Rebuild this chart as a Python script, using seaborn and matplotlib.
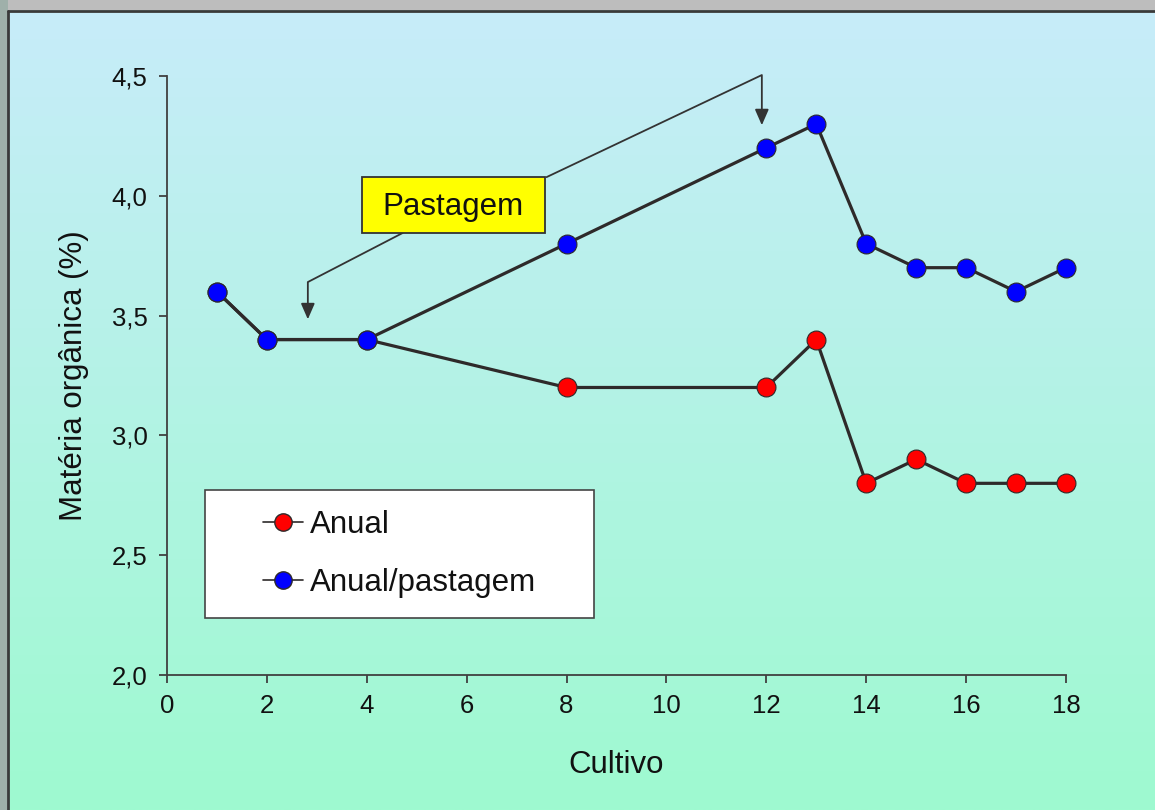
import numpy as np
import pandas as pd
import matplotlib
matplotlib.use("Agg")
import matplotlib.pyplot as plt
from matplotlib.lines import Line2D
from matplotlib.patches import Rectangle
import seaborn as sns

# Soil organic matter by crop cycle
cultivo = [1, 2, 4, 8, 12, 13, 14, 15, 16, 17, 18]
anual = [3.6, 3.4, 3.4, 3.2, 3.2, 3.4, 2.8, 2.9, 2.8, 2.8, 2.8]
anual_pastagem = [3.6, 3.4, 3.4, 3.8, 4.2, 4.3, 3.8, 3.7, 3.7, 3.6, 3.7]
series_names = ["Anual", "Anual/pastagem"]
x_ticks = [0, 2, 4, 6, 8, 10, 12, 14, 16, 18]
y_ticks = [2.0, 2.5, 3.0, 3.5, 4.0, 4.5]
y_tick_labels = ["2,0", "2,5", "3,0", "3,5", "4,0", "4,5"]

df = pd.DataFrame({
    "Cultivo": cultivo * 2,
    "MO": anual + anual_pastagem,
    "Serie": [series_names[0]] * len(cultivo) + [series_names[1]] * len(cultivo),
})

sns.set_theme(style="white")
plt.rcParams["font.family"] = ["Liberation Sans", "DejaVu Sans"]

W, H = 1155, 810
fig = plt.figure(figsize=(W / 100, H / 100), dpi=100)

# Background: vertical blue-to-green gradient with a grey frame top/left
bg = fig.add_axes([0, 0, 1, 1], zorder=-10)
bg.set_axis_off()
top = np.array([200, 236, 250]) / 255
bot = np.array([158, 250, 208]) / 255
t = np.linspace(0, 1, 400)[:, None, None]
grad = top * (1 - t) + bot * t
grad = np.repeat(grad, 2, axis=1)
bg.imshow(grad, extent=[0, W, H, 0], aspect="auto", origin="upper")
bg.set_xlim(0, W)
bg.set_ylim(H, 0)
bg.add_patch(Rectangle((0, 0), W, 10, color="#bdbdbd", lw=0))
bg.add_patch(Rectangle((0, 0), 8, H, color="#9fb0aa", lw=0))
bg.plot([8, W], [11, 11], color="#3a3a3a", lw=2)
bg.plot([8, 8], [11, H], color="#3a3a3a", lw=2)

ax = fig.add_axes([167 / W, 1 - 675 / H, (1066 - 167) / W, (675 - 76) / H])
ax.patch.set_alpha(0)

line_col = "#2e2a2a"
sns.lineplot(data=df, x="Cultivo", y="MO", hue="Serie", hue_order=series_names,
             palette=[line_col, line_col], lw=2.3, ax=ax, legend=False, zorder=2)
sns.scatterplot(data=df[df.Serie == series_names[0]], x="Cultivo", y="MO",
                color="#ff0000", edgecolor=line_col, linewidth=0.8, s=185,
                ax=ax, legend=False, zorder=3, clip_on=False)
sns.scatterplot(data=df[df.Serie == series_names[1]], x="Cultivo", y="MO",
                color="#0000ff", edgecolor=line_col, linewidth=0.8, s=185,
                ax=ax, legend=False, zorder=4, clip_on=False)

ax.set_xlim(0, 18)
ax.set_ylim(2.0, 4.5)
ax.set_xticks(x_ticks)
ax.set_xticklabels([str(v) for v in x_ticks])
ax.set_yticks(y_ticks)
ax.set_yticklabels(y_tick_labels)
for s in ["top", "right"]:
    ax.spines[s].set_visible(False)
for s in ["left", "bottom"]:
    ax.spines[s].set_color("#404040")
    ax.spines[s].set_linewidth(1.3)
ax.tick_params(axis="both", direction="out", length=6, width=1.3, color="#404040",
               labelsize=18.5, labelcolor="#111111", pad=8, bottom=True, left=True)
ax.set_xlabel("Cultivo", fontsize=22.5, color="#111111", labelpad=23)
ax.set_ylabel("Matéria orgânica (%)", fontsize=22.5, color="#111111", labelpad=16)

# Pastagem callout
ax.add_patch(Rectangle((3.9, 3.845), 3.67, 0.233, facecolor="#ffff00",
                       edgecolor="#333333", lw=1.3, zorder=5))
ax.text(5.735, 3.955, "Pastagem", fontsize=22.5, ha="center", va="center",
        color="#111111", zorder=6)
ax.plot([4.72, 2.82, 2.82], [3.845, 3.64, 3.52], color="#333333", lw=1.3, zorder=1)
ax.annotate("", xy=(2.82, 3.473), xytext=(2.82, 3.53),
            arrowprops=dict(arrowstyle="-|>,head_length=0.8,head_width=0.35",
                            color="#333333", lw=1.3))
ax.plot([7.6, 11.91, 11.91], [4.078, 4.504, 4.33], color="#333333", lw=1.3,
        zorder=1, clip_on=False)
ax.annotate("", xy=(11.91, 4.283), xytext=(11.91, 4.34),
            arrowprops=dict(arrowstyle="-|>,head_length=0.8,head_width=0.35",
                            color="#333333", lw=1.3))

# Legend in a white box
ax.add_patch(Rectangle((0.0423, 0.0952), 0.4327, 0.2136, transform=ax.transAxes,
                       facecolor="white", edgecolor="#444444", lw=1.2, zorder=6))
handles = [
    Line2D([0], [0], color=line_col, lw=1.2, marker="o", markersize=12.5,
           markerfacecolor="#ff0000", markeredgecolor=line_col),
    Line2D([0], [0], color=line_col, lw=1.2, marker="o", markersize=12.5,
           markerfacecolor="#0000ff", markeredgecolor=line_col),
]
leg = ax.legend(handles, series_names, loc="upper left",
                bbox_to_anchor=(0.1068, 0.275), fontsize=22.5, frameon=False,
                handlelength=1.28, handletextpad=0.22, labelspacing=0.88,
                borderpad=0, borderaxespad=0)
leg.set_zorder(7)
for txt in leg.get_texts():
    txt.set_color("#111111")

fig.savefig("out.png", dpi=100)
